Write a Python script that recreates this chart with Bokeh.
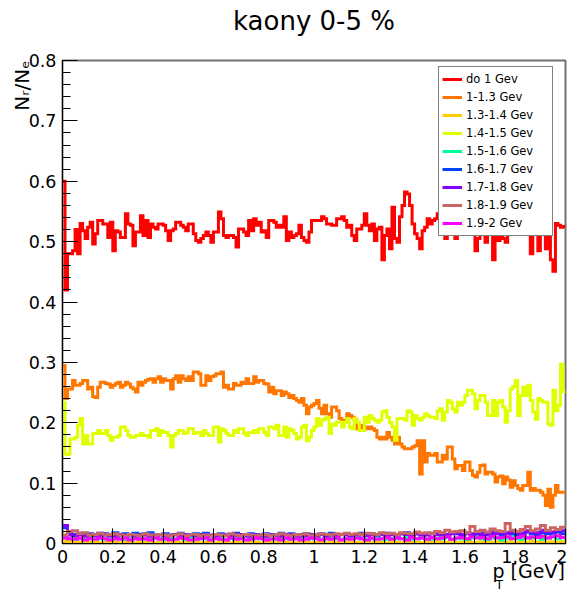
import numpy as np
from bokeh.plotting import figure
from bokeh.models import Range1d, FixedTicker, Legend, LegendItem, Title
from bokeh.embed import file_html
from bokeh.resources import INLINE

title_text = "kaony 0-5 %"
y_title_text = "Nᵣ/Nₑ"
x_title_main = "p [GeV]"
x_title_sub = "T"
series_labels = ["do 1 Gev", "1-1.3 Gev", "1.3-1.4 Gev", "1.4-1.5 Gev", "1.5-1.6 Gev",
                 "1.6-1.7 Gev", "1.7-1.8 Gev", "1.8-1.9 Gev", "1.9-2 Gev"]
series_colors = ["#ff0000", "#ff7700", "#ffcc00", "#e0ff00", "#00ff99",
                 "#0044ff", "#8800ff", "#cc6666", "#ff00ff"]
x_ticks = [0, 0.2, 0.4, 0.6, 0.8, 1.0, 1.2, 1.4, 1.6, 1.8, 2.0]
x_tick_labels = ["0", "0.2", "0.4", "0.6", "0.8", "1", "1.2", "1.4", "1.6", "1.8", "2"]
y_ticks = [0, 0.1, 0.2, 0.3, 0.4, 0.5, 0.6, 0.7, 0.8]
y_tick_labels = ["0", "0.1", "0.2", "0.3", "0.4", "0.5", "0.6", "0.7", "0.8"]

# do 1 Gev (200 bins, 0-2 GeV)
red = [0.60, 0.42, 0.48, 0.48, 0.485, 0.52, 0.48, 0.53, 0.518, 0.505,
       0.524, 0.532, 0.496, 0.513, 0.535, 0.535, 0.529, 0.529, 0.507, 0.532,
       0.485, 0.518, 0.516, 0.507, 0.507, 0.546, 0.529, 0.527, 0.493, 0.516,
       0.516, 0.543, 0.510, 0.535, 0.507, 0.529, 0.524, 0.521, 0.529, 0.529,
       0.527, 0.518, 0.502, 0.518, 0.521, 0.532, 0.532, 0.527, 0.524, 0.518,
       0.529, 0.529, 0.513, 0.502, 0.499, 0.505, 0.510, 0.516, 0.510, 0.499,
       0.516, 0.516, 0.549, 0.538, 0.510, 0.507, 0.510, 0.510, 0.507, 0.491,
       0.521, 0.521, 0.516, 0.510, 0.535, 0.518, 0.538, 0.527, 0.532, 0.516,
       0.518, 0.507, 0.535, 0.535, 0.532, 0.524, 0.527, 0.524, 0.541, 0.502,
       0.516, 0.507, 0.510, 0.513, 0.527, 0.507, 0.502, 0.499, 0.516, 0.535,
       0.535, 0.535, 0.535, 0.541, 0.538, 0.529, 0.529, 0.527, 0.527, 0.538,
       0.538, 0.541, 0.535, 0.524, 0.527, 0.510, 0.502, 0.521, 0.521, 0.527,
       0.546, 0.527, 0.518, 0.529, 0.502, 0.521, 0.524, 0.470, 0.510, 0.521,
       0.488, 0.557, 0.505, 0.499, 0.541, 0.560, 0.582, 0.579, 0.560, 0.529,
       0.513, 0.505, 0.488, 0.518, 0.524, 0.538, 0.529, 0.535, 0.538, 0.546,
       0.520, 0.530, 0.505, 0.525, 0.535, 0.520, 0.505, 0.530, 0.515, 0.540,
       0.525, 0.530, 0.515, 0.525, 0.485, 0.505, 0.525, 0.530, 0.499, 0.520,
       0.515, 0.470, 0.520, 0.502, 0.525, 0.505, 0.499, 0.530, 0.520, 0.535,
       0.525, 0.515, 0.530, 0.520, 0.540, 0.525, 0.480, 0.520, 0.530, 0.485,
       0.525, 0.515, 0.488, 0.520, 0.470, 0.451, 0.530, 0.527, 0.524, 0.525]

# 1-1.3 Gev (200 bins)
orange = [0.295, 0.240, 0.256, 0.256, 0.270, 0.262, 0.262, 0.265, 0.270, 0.270,
          0.256, 0.259, 0.243, 0.242, 0.259, 0.267, 0.267, 0.265, 0.264, 0.259,
          0.262, 0.265, 0.267, 0.259, 0.262, 0.267, 0.264, 0.259, 0.256, 0.251,
          0.267, 0.262, 0.267, 0.270, 0.272, 0.273, 0.267, 0.273, 0.276, 0.267,
          0.273, 0.270, 0.270, 0.256, 0.273, 0.278, 0.267, 0.278, 0.273, 0.270,
          0.276, 0.270, 0.284, 0.284, 0.281, 0.262, 0.262, 0.278, 0.270, 0.276,
          0.278, 0.281, 0.281, 0.284, 0.259, 0.262, 0.256, 0.256, 0.265, 0.262,
          0.262, 0.267, 0.265, 0.273, 0.265, 0.265, 0.276, 0.267, 0.270, 0.270,
          0.265, 0.264, 0.251, 0.259, 0.248, 0.253, 0.253, 0.245, 0.251, 0.248,
          0.242, 0.245, 0.240, 0.237, 0.234, 0.240, 0.229, 0.215, 0.226, 0.229,
          0.232, 0.237, 0.224, 0.215, 0.229, 0.215, 0.209, 0.226, 0.226, 0.220,
          0.207, 0.204, 0.204, 0.215, 0.212, 0.209, 0.204, 0.190, 0.190, 0.196,
          0.193, 0.190, 0.193, 0.190, 0.187, 0.176, 0.173, 0.176, 0.173, 0.184,
          0.176, 0.171, 0.165, 0.176, 0.165, 0.160, 0.157, 0.157, 0.157, 0.160,
          0.162, 0.170, 0.115, 0.170, 0.135, 0.149, 0.146, 0.146, 0.149, 0.135,
          0.135, 0.146, 0.140, 0.160, 0.160, 0.140, 0.124, 0.129, 0.129, 0.121,
          0.135, 0.135, 0.121, 0.113, 0.110, 0.118, 0.129, 0.130, 0.115, 0.118,
          0.118, 0.115, 0.102, 0.110, 0.112, 0.099, 0.110, 0.105, 0.093, 0.104,
          0.096, 0.091, 0.088, 0.096, 0.096, 0.118, 0.088, 0.091, 0.088, 0.088,
          0.085, 0.080, 0.063, 0.090, 0.060, 0.080, 0.096, 0.085, 0.085, 0.085]

# 1.4-1.5 Gev (200 bins)
yellowgreen = [0.234, 0.148, 0.148, 0.173, 0.173, 0.176, 0.196, 0.207, 0.165, 0.179,
               0.165, 0.165, 0.182, 0.182, 0.187, 0.182, 0.182, 0.187, 0.179, 0.171,
               0.176, 0.176, 0.179, 0.193, 0.193, 0.187, 0.179, 0.176, 0.176, 0.179,
               0.179, 0.182, 0.179, 0.179, 0.176, 0.187, 0.187, 0.190, 0.179, 0.187,
               0.184, 0.184, 0.179, 0.160, 0.179, 0.182, 0.187, 0.187, 0.182, 0.184,
               0.190, 0.190, 0.182, 0.184, 0.184, 0.179, 0.187, 0.182, 0.179, 0.179,
               0.193, 0.193, 0.168, 0.190, 0.187, 0.182, 0.179, 0.179, 0.187, 0.184,
               0.190, 0.190, 0.182, 0.179, 0.184, 0.184, 0.187, 0.184, 0.190, 0.190,
               0.184, 0.179, 0.193, 0.193, 0.190, 0.196, 0.179, 0.179, 0.193, 0.176,
               0.190, 0.187, 0.182, 0.173, 0.176, 0.193, 0.196, 0.170, 0.176, 0.187,
               0.193, 0.207, 0.196, 0.204, 0.207, 0.209, 0.182, 0.198, 0.196, 0.201,
               0.201, 0.193, 0.201, 0.207, 0.193, 0.190, 0.207, 0.201, 0.187, 0.187,
               0.209, 0.201, 0.212, 0.207, 0.204, 0.201, 0.204, 0.218, 0.220, 0.209,
               0.200, 0.193, 0.171, 0.207, 0.207, 0.207, 0.204, 0.220, 0.218, 0.196,
               0.212, 0.207, 0.204, 0.209, 0.215, 0.212, 0.209, 0.209, 0.207, 0.220,
               0.223, 0.204, 0.218, 0.237, 0.234, 0.223, 0.218, 0.234, 0.229, 0.234,
               0.245, 0.254, 0.254, 0.248, 0.223, 0.237, 0.245, 0.245, 0.234, 0.212,
               0.212, 0.237, 0.212, 0.234, 0.237, 0.226, 0.201, 0.220, 0.256, 0.260,
               0.270, 0.212, 0.245, 0.259, 0.245, 0.262, 0.237, 0.218, 0.206, 0.240,
               0.237, 0.234, 0.234, 0.198, 0.196, 0.254, 0.220, 0.229, 0.297, 0.251]

# 1.3-1.4 Gev (100 bins)
gold = [0.004, 0.003, 0.002, 0.002, 0.003, 0.002, 0.002, 0.001, 0.002, 0.002,
        0.002, 0.001, 0.002, 0.002, 0.001, 0.002, 0.002, 0.002, 0.001, 0.002,
        0.002, 0.001, 0.002, 0.002, 0.002, 0.001, 0.002, 0.001, 0.002, 0.002,
        0.001, 0.002, 0.002, 0.001, 0.002, 0.002, 0.001, 0.002, 0.002, 0.001,
        0.002, 0.002, 0.001, 0.002, 0.002, 0.002, 0.001, 0.002, 0.002, 0.001,
        0.002, 0.002, 0.001, 0.002, 0.002, 0.001, 0.002, 0.002, 0.002, 0.001,
        0.002, 0.001, 0.002, 0.002, 0.001, 0.002, 0.002, 0.001, 0.002, 0.002,
        0.002, 0.001, 0.002, 0.002, 0.003, 0.002, 0.002, 0.001, 0.002, 0.002,
        0.003, 0.002, 0.002, 0.003, 0.002, 0.002, 0.003, 0.002, 0.003, 0.002,
        0.002, 0.003, 0.002, 0.004, 0.002, 0.003, 0.002, 0.003, 0.002, 0.003]

# 1.5-1.6 Gev (100 bins)
mint = [0.012, 0.008, 0.009, 0.008, 0.007, 0.009, 0.008, 0.008, 0.007, 0.009,
        0.008, 0.009, 0.007, 0.008, 0.009, 0.008, 0.007, 0.008, 0.009, 0.008,
        0.007, 0.008, 0.008, 0.009, 0.007, 0.008, 0.009, 0.008, 0.008, 0.007,
        0.009, 0.008, 0.007, 0.008, 0.009, 0.010, 0.008, 0.007, 0.008, 0.009,
        0.008, 0.008, 0.007, 0.009, 0.008, 0.008, 0.009, 0.007, 0.008, 0.008,
        0.009, 0.007, 0.008, 0.009, 0.008, 0.007, 0.008, 0.009, 0.010, 0.008,
        0.007, 0.008, 0.009, 0.008, 0.007, 0.009, 0.008, 0.008, 0.010, 0.007,
        0.008, 0.009, 0.008, 0.007, 0.009, 0.008, 0.010, 0.007, 0.009, 0.008,
        0.007, 0.009, 0.011, 0.008, 0.007, 0.009, 0.010, 0.006, 0.009, 0.011,
        0.008, 0.007, 0.010, 0.009, 0.012, 0.007, 0.009, 0.011, 0.008, 0.010]

# 1.6-1.7 Gev (100 bins)
blue = [0.026, 0.016, 0.015, 0.017, 0.014, 0.016, 0.015, 0.017, 0.016, 0.014,
        0.018, 0.015, 0.016, 0.014, 0.017, 0.015, 0.016, 0.018, 0.014, 0.015,
        0.016, 0.014, 0.015, 0.017, 0.015, 0.014, 0.016, 0.015, 0.017, 0.014,
        0.015, 0.016, 0.014, 0.015, 0.017, 0.015, 0.014, 0.016, 0.015, 0.014,
        0.016, 0.015, 0.014, 0.017, 0.015, 0.016, 0.014, 0.015, 0.016, 0.015,
        0.014, 0.016, 0.015, 0.017, 0.014, 0.015, 0.016, 0.014, 0.015, 0.017,
        0.015, 0.016, 0.014, 0.015, 0.017, 0.015, 0.014, 0.016, 0.018, 0.015,
        0.016, 0.014, 0.015, 0.017, 0.016, 0.014, 0.015, 0.017, 0.016, 0.015,
        0.017, 0.015, 0.016, 0.018, 0.014, 0.016, 0.017, 0.015, 0.018, 0.016,
        0.015, 0.017, 0.019, 0.016, 0.015, 0.018, 0.016, 0.017, 0.019, 0.016]

# 1.7-1.8 Gev (100 bins)
purple = [0.030, 0.014, 0.013, 0.015, 0.012, 0.014, 0.013, 0.012, 0.014, 0.013,
          0.012, 0.014, 0.013, 0.015, 0.012, 0.013, 0.014, 0.012, 0.013, 0.014,
          0.012, 0.013, 0.015, 0.013, 0.012, 0.014, 0.013, 0.012, 0.014, 0.013,
          0.012, 0.013, 0.014, 0.012, 0.013, 0.015, 0.013, 0.012, 0.014, 0.013,
          0.012, 0.014, 0.013, 0.012, 0.015, 0.013, 0.014, 0.012, 0.013, 0.014,
          0.013, 0.015, 0.012, 0.014, 0.013, 0.015, 0.014, 0.013, 0.015, 0.014,
          0.013, 0.015, 0.014, 0.016, 0.013, 0.015, 0.014, 0.016, 0.015, 0.013,
          0.016, 0.015, 0.014, 0.016, 0.015, 0.017, 0.014, 0.016, 0.018, 0.015,
          0.017, 0.016, 0.018, 0.015, 0.017, 0.019, 0.016, 0.018, 0.017, 0.020,
          0.018, 0.017, 0.021, 0.019, 0.018, 0.022, 0.020, 0.019, 0.023, 0.021]

# 1.8-1.9 Gev (100 bins)
rosy = [0.014, 0.020, 0.021, 0.016, 0.018, 0.014, 0.015, 0.017, 0.014, 0.015,
        0.016, 0.014, 0.013, 0.015, 0.014, 0.013, 0.016, 0.014, 0.013, 0.015,
        0.014, 0.013, 0.014, 0.016, 0.013, 0.014, 0.015, 0.013, 0.014, 0.013,
        0.015, 0.014, 0.013, 0.016, 0.014, 0.013, 0.015, 0.014, 0.013, 0.014,
        0.015, 0.013, 0.014, 0.016, 0.014, 0.013, 0.015, 0.014, 0.016, 0.013,
        0.014, 0.016, 0.015, 0.014, 0.016, 0.015, 0.017, 0.015, 0.016, 0.015,
        0.017, 0.016, 0.015, 0.018, 0.016, 0.017, 0.015, 0.018, 0.017, 0.016,
        0.019, 0.017, 0.018, 0.016, 0.020, 0.018, 0.022, 0.019, 0.020, 0.021,
        0.018, 0.028, 0.020, 0.022, 0.019, 0.024, 0.021, 0.020, 0.033, 0.022,
        0.020, 0.023, 0.028, 0.021, 0.024, 0.030, 0.022, 0.026, 0.023, 0.027]

# 1.9-2 Gev (100 bins)
magenta = [0.009, 0.008, 0.007, 0.009, 0.006, 0.008, 0.007, 0.009, 0.008, 0.006,
           0.008, 0.007, 0.009, 0.006, 0.008, 0.007, 0.008, 0.006, 0.009, 0.007,
           0.008, 0.006, 0.007, 0.009, 0.008, 0.006, 0.007, 0.008, 0.009, 0.006,
           0.008, 0.007, 0.006, 0.009, 0.007, 0.008, 0.006, 0.007, 0.009, 0.008,
           0.006, 0.007, 0.008, 0.006, 0.009, 0.007, 0.008, 0.006, 0.007, 0.009,
           0.008, 0.006, 0.008, 0.007, 0.009, 0.006, 0.008, 0.007, 0.009, 0.008,
           0.006, 0.009, 0.007, 0.008, 0.010, 0.007, 0.009, 0.008, 0.006, 0.010,
           0.008, 0.009, 0.007, 0.010, 0.008, 0.009, 0.011, 0.007, 0.009, 0.010,
           0.008, 0.011, 0.009, 0.010, 0.008, 0.012, 0.009, 0.010, 0.011, 0.008,
           0.010, 0.012, 0.009, 0.011, 0.010, 0.012, 0.009, 0.011, 0.013, 0.010]

all_series = [red, orange, gold, yellowgreen, mint, blue, purple, rosy, magenta]

FONT = "DejaVu Sans"
W, H = 567, 592
LEFT, RIGHT, TOP, BOTTOM = 62, 2, 60, 49

p = figure(width=W, height=H, output_backend="svg", toolbar_location=None,
           x_range=Range1d(0, 2), y_range=Range1d(0, 0.8),
           min_border_left=LEFT, min_border_right=RIGHT,
           min_border_top=TOP, min_border_bottom=BOTTOM)
p.background_fill_color = "white"
p.border_fill_color = "white"
p.grid.visible = False
p.outline_line_color = "#707070"
p.outline_line_width = 2

renderers = []
for vals, col in zip(all_series, series_colors):
    n = len(vals)
    edges = np.linspace(0.0, 2.0, n + 1)
    ys = list(vals) + [vals[-1]]
    r = p.step(x=edges, y=ys, mode="after", line_color=col, line_width=3,
               line_join="miter")
    renderers.append(r)

x_minor = [round(v, 3) for v in np.arange(0, 2.0001, 0.04)]
y_minor = [round(v, 3) for v in np.arange(0, 0.8001, 0.02)]
p.xaxis.ticker = FixedTicker(ticks=x_ticks, minor_ticks=x_minor)
p.yaxis.ticker = FixedTicker(ticks=y_ticks, minor_ticks=y_minor)
p.xaxis.major_label_overrides = {t: l for t, l in zip(x_ticks, x_tick_labels)}
p.yaxis.major_label_overrides = {t: l for t, l in zip(y_ticks, y_tick_labels)}
for ax in (p.xaxis[0], p.yaxis[0]):
    ax.axis_line_color = "black"
    ax.axis_line_width = 1
    ax.major_tick_line_color = "black"
    ax.minor_tick_line_color = "black"
    ax.major_tick_in = 15
    ax.major_tick_out = 0
    ax.minor_tick_in = 8
    ax.minor_tick_out = 0
    ax.major_label_text_font = FONT
    ax.major_label_text_font_size = "17.5px"
    ax.major_label_text_color = "black"
    ax.major_label_standoff = 6

items = [LegendItem(label=lab, renderers=[r]) for lab, r in zip(series_labels, renderers)]
legend = Legend(items=items, location=(376, 307), orientation="vertical",
                label_text_font=FONT, label_text_font_size="11.5px",
                label_text_color="black",
                glyph_width=20, glyph_height=18, label_height=18, label_width=83,
                label_standoff=4, spacing=0, padding=3, margin=0,
                border_line_color="black", border_line_width=1,
                background_fill_color="white", background_fill_alpha=1.0)
p.add_layout(legend)


def make_title(**kw):
    try:
        return Title(**kw)
    except Exception:
        kw["standoff"] = 0
        return Title(**kw)


# main title: the plot's own title is left empty; a blank spacer row sits
# between the frame and the title row so that the title lands near the top
p.title.text = ""
p.add_layout(make_title(text=" ", standoff=0, text_font=FONT, text_font_size="18px"), "above")
p.add_layout(make_title(text=title_text, align="center", standoff=0, vertical_align="top",
                        text_font=FONT, text_font_size="26px", text_font_style="normal",
                        text_color="black"), "above")

# y-axis title (left side, at the top end)
p.add_layout(make_title(text=y_title_text, align="right", offset=0, standoff=-16,
                        vertical_align="bottom", text_font=FONT, text_font_size="20px",
                        text_font_style="normal", text_color="black"), "left")

# x-axis title (below, at the right end)
p.add_layout(make_title(text=x_title_main, align="left", offset=430, standoff=-11,
                        vertical_align="top", text_font=FONT, text_font_size="19px",
                        text_font_style="normal", text_color="black"), "below")
p.add_layout(make_title(text=x_title_sub, align="left", offset=433, standoff=-4,
                        vertical_align="top", text_font=FONT, text_font_size="12.5px",
                        text_font_style="normal", text_color="black"), "below")

open("out.html", "w").write(file_html(p, INLINE))
